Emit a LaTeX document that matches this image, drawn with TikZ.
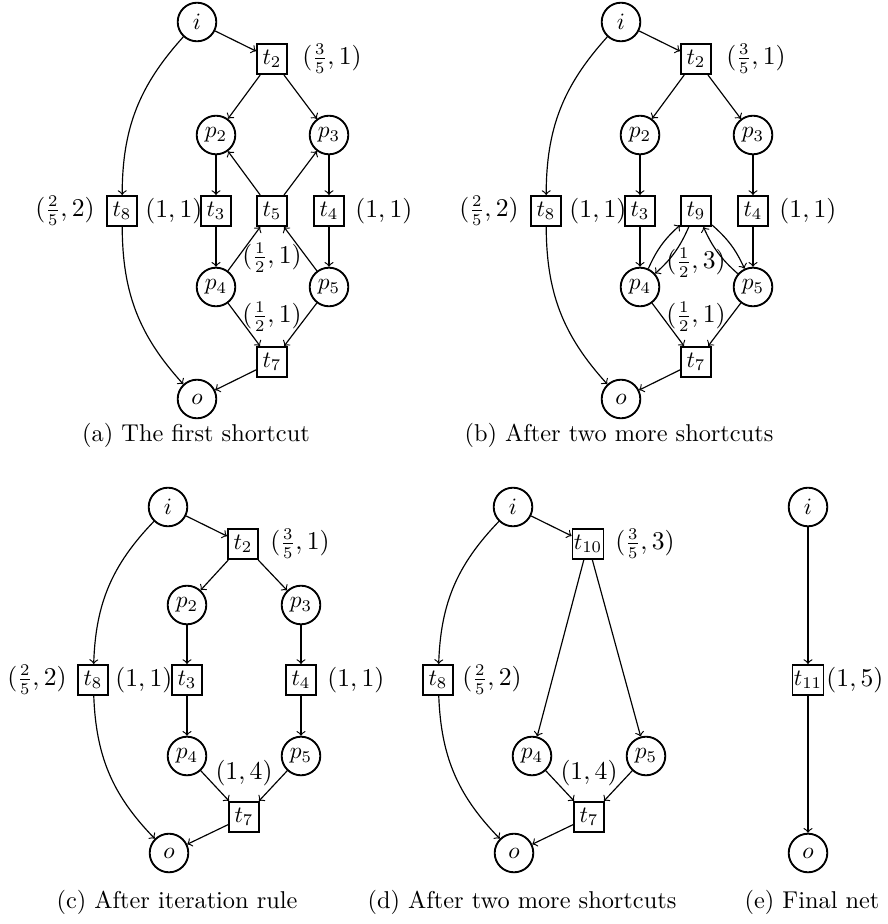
\documentclass[tikz,border=0pt]{standalone}
\begin{document}
\begin{tikzpicture}[x=0.4274pt,y=-0.4274pt,
  every node/.style={font=\fontsize{10}{12}\selectfont},
  place/.style={circle,draw,thick,minimum size=16.5pt,inner sep=0pt},
  trans/.style={rectangle,draw,thick,minimum size=12.9pt,inner sep=0.6pt},
  lab/.style={inner sep=0pt,font=\fontsize{10.5}{12}\selectfont},
  labr/.style={lab,anchor=west},
  labl/.style={lab,anchor=east},
  arc/.style={->,line width=0.5pt},
  captext/.style={inner sep=0pt,font=\fontsize{10.4}{12}\selectfont}]
\useasboundingbox (0,0) rectangle (887,924);

% ---------------- (a) ----------------
\node[place] (ai) at (197,22) {$i$};
\node[trans] (at2) at (272,59) {$t_2$};
\node[place] (ap2) at (216,135) {$p_2$};
\node[place] (ap3) at (329,135) {$p_3$};
\node[trans] (at8) at (122,211) {$t_8$};
\node[trans] (at3) at (216,211) {$t_3$};
\node[trans] (at5) at (272,211) {$t_5$};
\node[trans] (at4) at (329,211) {$t_4$};
\node[place] (ap4) at (216,287) {$p_4$};
\node[place] (ap5) at (329,287) {$p_5$};
\node[trans] (at7) at (272,362) {$t_7$};
\node[place] (ao) at (197,399) {$o$};
\node[labr] (al1) at (302,59) {$(\frac{3}{5},1)$};
\node[labl] (al2) at (95,211) {$(\frac{2}{5},2)$};
\node[labr] (al3) at (145,211) {$(1,1)$};
\node[labr] (al4) at (355,211) {$(1,1)$};
\node[lab] (al5) at (272,258) {$(\frac{1}{2},1)$};
\node[lab] (al6) at (272,317) {$(\frac{1}{2},1)$};
\draw[arc] (ai) -- (at2);
\draw[arc] (at2) -- (ap2);
\draw[arc] (at2) -- (ap3);
\draw[arc] (ap2) -- (at3);
\draw[arc] (ap3) -- (at4);
\draw[arc] (at5) -- (ap2);
\draw[arc] (at5) -- (ap3);
\draw[arc] (at3) -- (ap4);
\draw[arc] (at4) -- (ap5);
\draw[arc] (ap4) -- (at5);
\draw[arc] (ap5) -- (at5);
\draw[arc] (ap4) -- (at7);
\draw[arc] (ap5) -- (at7);
\draw[arc] (at7) -- (ao);
\draw[arc] (ai) to[bend right=21] (at8);
\draw[arc] (at8) to[bend right=21] (ao);
\node[captext] (acap) at (196,435) {(a) The first shortcut};

% ---------------- (b) ----------------
\node[place] (bi) at (621,22) {$i$};
\node[trans] (bt2) at (696,59) {$t_2$};
\node[place] (bp2) at (640,135) {$p_2$};
\node[place] (bp3) at (753,135) {$p_3$};
\node[trans] (bt8) at (546,211) {$t_8$};
\node[trans] (bt3) at (640,211) {$t_3$};
\node[trans] (bt9) at (696,211) {$t_9$};
\node[trans] (bt4) at (753,211) {$t_4$};
\node[place] (bp4) at (640,287) {$p_4$};
\node[place] (bp5) at (753,287) {$p_5$};
\node[trans] (bt7) at (696,362) {$t_7$};
\node[place] (bo) at (621,399) {$o$};
\node[labr] (bl1) at (726,59) {$(\frac{3}{5},1)$};
\node[labl] (bl2) at (519,211) {$(\frac{2}{5},2)$};
\node[labr] (bl3) at (569,211) {$(1,1)$};
\node[labr] (bl4) at (779,211) {$(1,1)$};
\node[lab] (bl5) at (696,263) {$(\frac{1}{2},3)$};
\node[lab] (bl6) at (696,317) {$(\frac{1}{2},1)$};
\draw[arc] (bi) -- (bt2);
\draw[arc] (bt2) -- (bp2);
\draw[arc] (bt2) -- (bp3);
\draw[arc] (bp2) -- (bt3);
\draw[arc] (bp3) -- (bt4);
\draw[arc] (bt3) -- (bp4);
\draw[arc] (bt4) -- (bp5);
\draw[arc] (bp4) to[bend left=12] (bt9);
\draw[arc] (bt9) to[bend left=12] (bp4);
\draw[arc] (bt9) to[bend left=12] (bp5);
\draw[arc] (bp5) to[bend left=12] (bt9);
\draw[arc] (bp4) -- (bt7);
\draw[arc] (bp5) -- (bt7);
\draw[arc] (bt7) -- (bo);
\draw[arc] (bi) to[bend right=21] (bt8);
\draw[arc] (bt8) to[bend right=21] (bo);
\node[captext] (bcap) at (619,435) {(b) After two more shortcuts};

% ---------------- (c) ----------------
\node[place] (ci) at (168,507) {$i$};
\node[trans] (ct2) at (243,544) {$t_2$};
\node[place] (cp2) at (187,605) {$p_2$};
\node[place] (cp3) at (301,605) {$p_3$};
\node[trans] (ct8) at (93,680) {$t_8$};
\node[trans] (ct3) at (187,680) {$t_3$};
\node[trans] (ct4) at (301,680) {$t_4$};
\node[place] (cp4) at (187,756) {$p_4$};
\node[place] (cp5) at (301,756) {$p_5$};
\node[trans] (ct7) at (244,817) {$t_7$};
\node[place] (co) at (169,853) {$o$};
\node[labr] (cl1) at (270,544) {$(\frac{3}{5},1)$};
\node[labl] (cl2) at (67,680) {$(\frac{2}{5},2)$};
\node[labr] (cl3) at (115,680) {$(1,1)$};
\node[labr] (cl4) at (327,680) {$(1,1)$};
\node[lab] (cl5) at (244,773) {$(1,4)$};
\draw[arc] (ci) -- (ct2);
\draw[arc] (ct2) -- (cp2);
\draw[arc] (ct2) -- (cp3);
\draw[arc] (cp2) -- (ct3);
\draw[arc] (cp3) -- (ct4);
\draw[arc] (ct3) -- (cp4);
\draw[arc] (ct4) -- (cp5);
\draw[arc] (cp4) -- (ct7);
\draw[arc] (cp5) -- (ct7);
\draw[arc] (ct7) -- (co);
\draw[arc] (ci) to[bend right=21] (ct8);
\draw[arc] (ct8) to[bend right=21] (co);
\node[captext] (ccap) at (177,902) {(c) After iteration rule};

% ---------------- (d) ----------------
\node[place] (di) at (513,507) {$i$};
\node[trans] (dt10) at (588,544) {$t_{10}$};
\node[trans] (dt8) at (438,680) {$t_8$};
\node[place] (dp4) at (532,756) {$p_4$};
\node[place] (dp5) at (646,756) {$p_5$};
\node[trans] (dt7) at (589,817) {$t_7$};
\node[place] (do) at (514,853) {$o$};
\node[labr] (dl1) at (615,544) {$(\frac{3}{5},3)$};
\node[labr] (dl2) at (462,680) {$(\frac{2}{5},2)$};
\node[lab] (dl3) at (589,773) {$(1,4)$};
\draw[arc] (di) -- (dt10);
\draw[arc] (dt10) -- (dp4);
\draw[arc] (dt10) -- (dp5);
\draw[arc] (dp4) -- (dt7);
\draw[arc] (dp5) -- (dt7);
\draw[arc] (dt7) -- (do);
\draw[arc] (di) to[bend right=21] (dt8);
\draw[arc] (dt8) to[bend right=21] (do);
\node[captext] (dcap) at (522,902) {(d) After two more shortcuts};

% ---------------- (e) ----------------
\node[place] (ei) at (808,507) {$i$};
\node[trans] (et11) at (808,680) {$t_{11}$};
\node[place] (eo) at (808,853) {$o$};
\node[labr] (el1) at (826,680) {$(1,5)$};
\draw[arc] (ei) -- (et11);
\draw[arc] (et11) -- (eo);
\node[captext] (ecap) at (812,902) {(e) Final net};
\end{tikzpicture}
\end{document}
